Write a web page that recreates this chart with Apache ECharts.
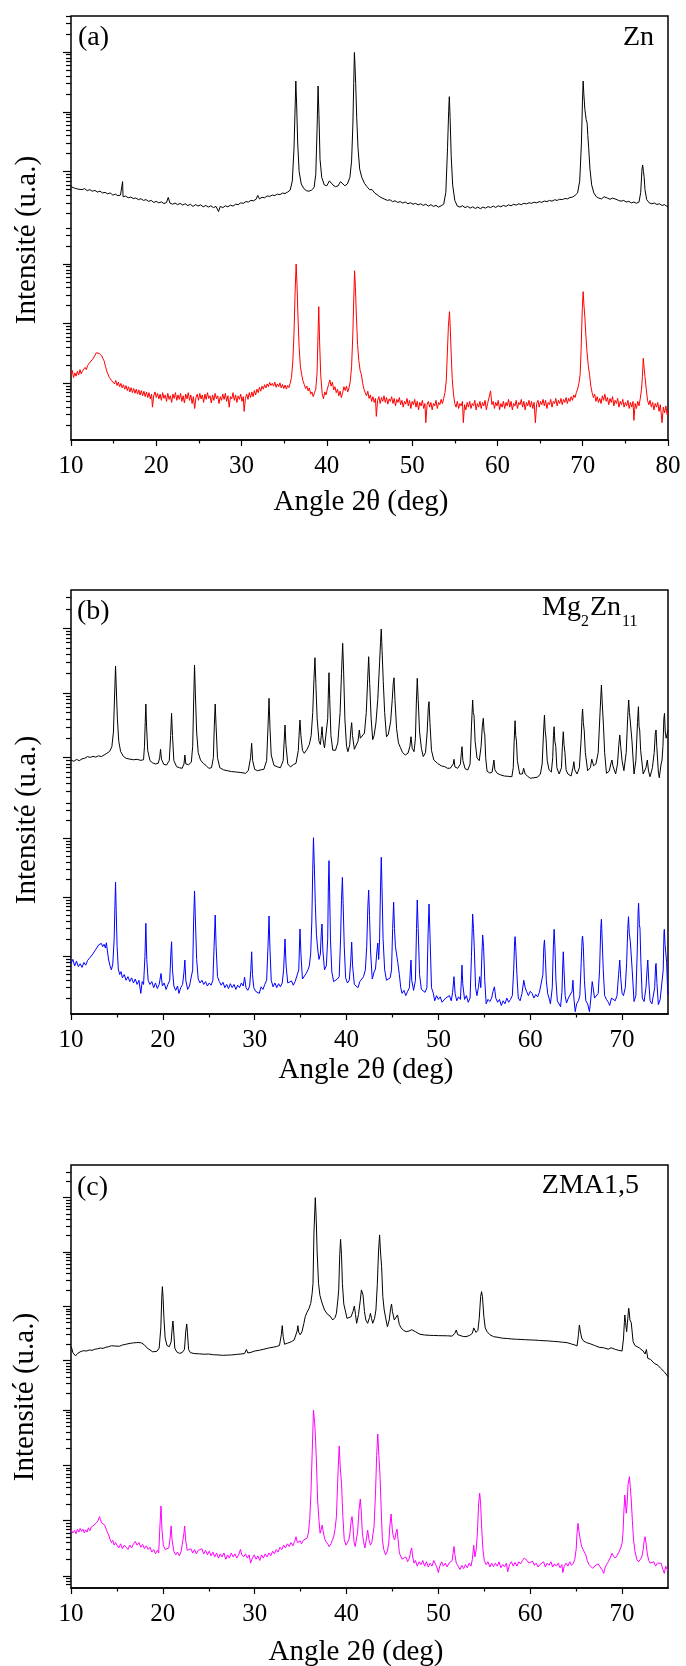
<!DOCTYPE html>
<html><head><meta charset="utf-8">
<script src="https://cdn.jsdelivr.net/npm/echarts@6/dist/echarts.min.js"></script>
<style>html,body{margin:0;padding:0;background:#fff}#c{width:686px;height:1666px}</style>
</head><body><div id="c"></div>
<script>
// ---------- text ----------
const panelLabels = ['(a)', '(b)', '(c)'];
const xTitle = 'Angle 2θ (deg)';
const yTitle = 'Intensité (u.a.)';
const xTicksA = [10, 20, 30, 40, 50, 60, 70, 80];
const xTicksBC = [10, 20, 30, 40, 50, 60, 70];

// ---------- data: [2θ (deg), intensity (a.u.)] ----------
const znBlack = [[10,560],[10.2,590],[10.4,530],[10.6,555],[10.8,510],[11,540],[11.3,500],[11.6,520],[11.9,480],[12.2,500],[12.5,470],[12.8,485],[13.1,455],[13.4,470],[13.7,440],[14,450],[14.3,425],[14.6,440],[14.9,405],[15.2,420],[15.5,395],[15.8,405],[16,385],[16.05,680],[16.1,380],[16.4,390],[16.7,365],[17,375],[17.3,355],[17.6,362],[17.9,340],[18.2,352],[18.5,330],[18.8,340],[19.1,318],[19.4,330],[19.7,305],[20,318],[20.3,300],[20.6,312],[20.9,292],[21.2,305],[21.4,370],[21.6,298],[21.9,285],[22.2,298],[22.5,280],[22.8,294],[23.1,276],[23.4,290],[23.7,270],[24,284],[24.3,262],[24.6,280],[24.9,266],[25.2,278],[25.5,258],[25.8,272],[26.1,255],[26.4,268],[26.7,250],[27,262],[27.3,215],[27.5,262],[27.8,250],[28.1,268],[28.4,258],[28.7,275],[29,265],[29.3,285],[29.6,280],[29.9,300],[30.2,295],[30.5,315],[30.8,310],[31.1,330],[31.4,325],[31.7,345],[31.9,400],[32.1,350],[32.4,372],[32.7,365],[33,392],[33.3,385],[33.6,405],[33.9,398],[34.2,420],[34.5,412],[34.8,438],[35.1,430],[35.4,455],[35.7,490],[35.95,700],[36.15,2500],[36.28,12000],[36.36,32700],[36.45,14000],[36.58,3000],[36.75,1000],[37,620],[37.3,520],[37.6,480],[37.9,470],[38.2,490],[38.5,540],[38.7,900],[38.85,5000],[38.97,27000],[39.07,9000],[39.2,1600],[39.4,800],[39.7,600],[40,580],[40.3,700],[40.5,690],[40.7,600],[41,560],[41.3,575],[41.6,680],[41.8,640],[42.1,580],[42.4,620],[42.7,800],[42.9,1500],[43.05,6000],[43.15,30000],[43.23,98000],[43.3,60000],[43.38,30000],[43.5,8000],[43.65,2500],[43.85,1100],[44.1,800],[44.4,640],[44.7,560],[45,500],[45.3,500],[45.6,440],[45.9,410],[46.2,380],[46.5,360],[46.8,345],[47.1,330],[47.4,338],[47.7,315],[48,325],[48.3,305],[48.6,315],[48.9,298],[49.2,310],[49.5,290],[49.8,302],[50.1,285],[50.4,295],[50.7,278],[51,290],[51.3,272],[51.6,285],[51.9,265],[52.2,280],[52.5,262],[52.8,272],[53.1,255],[53.4,268],[53.7,285],[53.95,450],[54.15,2500],[54.28,10000],[54.36,17900],[54.45,8000],[54.58,1800],[54.75,600],[55,330],[55.3,265],[55.6,255],[55.9,268],[56.2,250],[56.5,262],[56.8,245],[57.1,258],[57.4,242],[57.7,255],[58,240],[58.3,255],[58.6,245],[58.9,260],[59.2,250],[59.5,265],[59.8,252],[60.1,268],[60.4,258],[60.7,272],[61,262],[61.3,278],[61.6,268],[61.9,284],[62.2,275],[62.5,290],[62.8,280],[63.1,296],[63.4,288],[63.7,302],[64,294],[64.3,308],[64.6,300],[64.9,315],[65.2,306],[65.5,322],[65.8,314],[66.1,330],[66.4,320],[66.7,338],[67,330],[67.3,345],[67.6,340],[67.9,355],[68.2,350],[68.5,368],[68.8,375],[69.1,400],[69.4,440],[69.65,700],[69.85,3000],[69.97,15000],[70.05,32700],[70.13,20000],[70.25,11000],[70.4,7500],[70.52,6400],[70.6,4000],[70.7,2500],[70.85,1100],[71.05,600],[71.3,440],[71.6,380],[71.9,360],[72.2,350],[72.5,380],[72.7,410],[72.9,360],[73.2,345],[73.5,360],[73.7,385],[73.9,345],[74.2,330],[74.5,320],[74.8,330],[75.1,310],[75.4,318],[75.7,300],[76,310],[76.3,296],[76.6,310],[76.8,450],[76.95,1100],[77.03,1290],[77.12,1000],[77.2,820],[77.3,500],[77.5,340],[77.8,300],[78.1,290],[78.4,298],[78.7,282],[79,290],[79.3,272],[79.6,280],[79.8,262],[80,255]];

const znRed = [[10,140],[10.15,165],[10.3,125],[10.45,150],[10.6,132],[10.75,160],[10.9,138],[11.05,170],[11.2,145],[11.35,162],[11.5,150],[11.65,185],[11.8,170],[11.95,200],[12.1,190],[12.25,228],[12.4,215],[12.55,255],[12.7,275],[12.85,300],[12.95,325],[13.05,310],[13.15,340],[13.3,318],[13.45,300],[13.6,290],[13.75,260],[13.9,235],[14.05,190],[14.2,160],[14.35,150],[14.5,125],[14.65,132],[14.8,110],[14.95,118],[15.1,98],[15.25,112],[15.4,92],[15.55,105],[15.7,88],[15.85,100],[16,84],[16.15,95],[16.3,80],[16.45,92],[16.6,76],[16.75,88],[16.9,72],[17.05,85],[17.2,70],[17.35,82],[17.5,68],[17.65,80],[17.8,66],[17.95,78],[18.1,64],[18.25,76],[18.4,62],[18.55,74],[18.7,60],[18.85,72],[19,58],[19.15,70],[19.3,55],[19.45,66],[19.55,40],[19.7,62],[19.85,72],[20,58],[20.15,68],[20.3,55],[20.45,66],[20.6,52],[20.75,70],[20.9,56],[21.05,64],[21.2,50],[21.35,68],[21.5,54],[21.65,62],[21.8,48],[21.95,66],[22.1,56],[22.25,70],[22.4,52],[22.55,64],[22.7,54],[22.85,68],[23,50],[23.15,62],[23.3,47],[23.45,66],[23.6,55],[23.75,70],[23.9,52],[24.05,64],[24.2,46],[24.35,60],[24.5,38],[24.65,58],[24.8,66],[24.95,52],[25.1,68],[25.25,55],[25.4,64],[25.55,48],[25.7,66],[25.85,54],[26,70],[26.15,56],[26.3,62],[26.45,47],[26.6,64],[26.75,52],[26.9,68],[27.05,55],[27.2,62],[27.35,46],[27.5,60],[27.65,52],[27.8,66],[27.95,54],[28.1,68],[28.25,50],[28.4,62],[28.55,40],[28.7,60],[28.85,55],[29,70],[29.15,52],[29.3,64],[29.45,48],[29.6,62],[29.75,54],[29.9,66],[30.05,50],[30.2,60],[30.3,34],[30.45,56],[30.6,66],[30.75,54],[30.9,70],[31.05,58],[31.2,72],[31.35,60],[31.5,76],[31.65,64],[31.8,80],[31.95,70],[32.1,86],[32.25,74],[32.4,90],[32.55,80],[32.7,95],[32.85,84],[33,98],[33.15,88],[33.3,104],[33.45,92],[33.6,100],[33.75,90],[33.9,105],[34.05,86],[34.2,98],[34.35,88],[34.5,102],[34.65,84],[34.8,96],[34.95,82],[35.1,94],[35.25,80],[35.4,92],[35.55,85],[35.7,100],[35.85,125],[36,220],[36.15,700],[36.28,3500],[36.4,10000],[36.5,4500],[36.6,1500],[36.75,400],[36.9,190],[37.05,140],[37.2,110],[37.35,96],[37.5,82],[37.65,90],[37.8,75],[37.95,84],[38.1,66],[38.25,72],[38.4,60],[38.55,70],[38.7,80],[38.85,150],[38.97,700],[39.05,1930],[39.15,500],[39.28,140],[39.45,68],[39.6,55],[39.75,72],[39.9,64],[40.05,80],[40.2,96],[40.35,114],[40.5,90],[40.65,105],[40.8,78],[40.95,88],[41.1,70],[41.25,80],[41.4,62],[41.55,74],[41.7,58],[41.85,70],[42,88],[42.15,76],[42.3,90],[42.45,72],[42.6,84],[42.75,110],[42.9,190],[43.05,700],[43.15,2500],[43.25,7700],[43.35,4000],[43.45,1500],[43.6,450],[43.75,240],[43.9,165],[44.05,140],[44.2,100],[44.35,80],[44.5,70],[44.65,62],[44.8,74],[44.95,56],[45.1,64],[45.25,50],[45.4,60],[45.55,48],[45.7,56],[45.8,28],[45.95,52],[46.1,60],[46.25,46],[46.4,58],[46.55,50],[46.7,62],[46.85,48],[47,58],[47.15,45],[47.3,55],[47.45,50],[47.6,60],[47.75,46],[47.9,56],[48.05,42],[48.2,54],[48.35,48],[48.5,58],[48.65,44],[48.8,52],[48.95,40],[49.1,50],[49.25,45],[49.4,56],[49.55,42],[49.7,52],[49.85,38],[50,50],[50.15,44],[50.3,54],[50.45,40],[50.6,50],[50.75,36],[50.9,48],[51.05,42],[51.2,52],[51.35,38],[51.5,46],[51.6,22],[51.75,44],[51.9,50],[52.05,40],[52.2,48],[52.35,36],[52.5,46],[52.65,42],[52.8,52],[52.95,38],[53.1,48],[53.25,44],[53.4,54],[53.55,46],[53.7,56],[53.85,70],[54,110],[54.12,300],[54.25,900],[54.38,1590],[54.48,800],[54.58,300],[54.7,120],[54.85,66],[55,46],[55.15,40],[55.3,50],[55.45,38],[55.6,46],[55.75,42],[55.9,50],[56,22],[56.15,44],[56.3,36],[56.45,48],[56.6,40],[56.75,50],[56.9,38],[57.05,46],[57.2,42],[57.35,52],[57.5,36],[57.65,46],[57.8,40],[57.95,50],[58.1,38],[58.25,48],[58.4,42],[58.55,52],[58.7,36],[58.85,46],[59,44],[59.2,75],[59.35,44],[59.5,50],[59.65,38],[59.8,48],[59.95,42],[60.1,52],[60.25,36],[60.4,46],[60.55,40],[60.7,50],[60.85,38],[61,48],[61.15,42],[61.3,54],[61.45,40],[61.6,50],[61.75,36],[61.9,46],[62.05,42],[62.2,52],[62.35,38],[62.5,48],[62.65,44],[62.8,54],[62.95,40],[63.1,50],[63.25,36],[63.4,48],[63.55,42],[63.7,52],[63.85,40],[64,50],[64.15,38],[64.3,48],[64.45,22],[64.6,46],[64.75,52],[64.9,40],[65.05,50],[65.2,44],[65.35,54],[65.5,42],[65.65,52],[65.8,38],[65.95,48],[66.1,44],[66.25,54],[66.4,40],[66.55,50],[66.7,46],[66.85,56],[67,42],[67.15,52],[67.3,46],[67.45,56],[67.6,44],[67.75,54],[67.9,48],[68.05,58],[68.2,46],[68.35,56],[68.5,50],[68.65,60],[68.8,52],[68.95,64],[69.1,58],[69.25,70],[69.4,80],[69.55,100],[69.7,140],[69.82,400],[69.95,1800],[70.05,3440],[70.15,2000],[70.25,1300],[70.35,700],[70.5,340],[70.65,200],[70.8,140],[70.95,90],[71.1,70],[71.25,58],[71.4,66],[71.55,50],[71.7,60],[71.85,48],[72,56],[72.15,46],[72.3,62],[72.45,52],[72.6,66],[72.75,50],[72.9,58],[73.05,44],[73.2,56],[73.35,48],[73.5,60],[73.65,42],[73.8,52],[73.95,46],[74.1,56],[74.25,40],[74.4,50],[74.55,44],[74.7,54],[74.85,40],[75,48],[75.15,42],[75.3,52],[75.45,38],[75.6,48],[75.75,40],[75.9,50],[76,24],[76.15,46],[76.3,38],[76.45,50],[76.6,42],[76.75,56],[76.9,80],[77,130],[77.1,263],[77.2,180],[77.3,130],[77.45,80],[77.6,52],[77.75,44],[77.9,52],[78.05,40],[78.2,48],[78.35,36],[78.5,46],[78.65,40],[78.8,48],[78.95,34],[79.1,44],[79.3,22],[79.45,40],[79.6,32],[79.75,42],[79.9,30],[80,34]];

const mgBlack = [[10,921],[10.3,880],[10.6,940],[10.9,900],[11.2,960],[11.5,980],[11.8,1040],[12.1,1010],[12.4,1050],[12.7,1020],[13,1070],[13.3,1040],[13.6,1100],[13.9,1170],[14.2,1250],[14.45,1480],[14.62,2500],[14.72,7000],[14.85,26100],[14.95,10000],[15.05,4000],[15.2,1800],[15.4,1250],[15.7,1050],[16,980],[16.4,950],[16.8,930],[17.2,945],[17.6,910],[17.9,930],[18,1500],[18.08,3500],[18.15,6760],[18.23,3000],[18.35,1300],[18.6,900],[18.9,830],[19.2,800],[19.5,820],[19.65,1000],[19.75,1350],[19.85,950],[20.1,790],[20.4,771],[20.7,900],[20.85,2200],[20.95,4850],[21.05,2200],[21.2,900],[21.5,726],[21.8,700],[22.1,686],[22.3,800],[22.4,1100],[22.5,800],[22.8,780],[23.1,850],[23.25,1500],[23.35,7000],[23.45,27100],[23.55,9000],[23.68,2500],[23.85,1200],[24.1,921],[24.4,820],[24.7,760],[25,686],[25.3,700],[25.5,1000],[25.6,3000],[25.7,6760],[25.8,3000],[25.95,1000],[26.2,700],[26.6,650],[27,630],[27.5,610],[28,601],[28.5,590],[29,574],[29.3,630],[29.55,1000],[29.67,1670],[29.78,900],[30,660],[30.3,630],[30.7,650],[31,662],[31.3,900],[31.45,3000],[31.56,8280],[31.66,3000],[31.8,1100],[32.1,760],[32.5,720],[32.8,700],[33.1,900],[33.2,1700],[33.3,3200],[33.4,1600],[33.6,800],[33.9,720],[34.2,780],[34.5,819],[34.75,1300],[34.85,2500],[34.93,3830],[35.03,2200],[35.2,1300],[35.4,1170],[35.7,1350],[35.95,1600],[36.15,2200],[36.32,5000],[36.45,16000],[36.56,35100],[36.66,14000],[36.8,4000],[37,1800],[37.15,1600],[37.25,2200],[37.33,3010],[37.42,2000],[37.6,1420],[37.8,1500],[37.95,4000],[38.02,10000],[38.09,20600],[38.17,8000],[38.3,2200],[38.5,1310],[38.8,1300],[39.05,1700],[39.3,5000],[39.45,20000],[39.58,58600],[39.68,22000],[39.82,4000],[40,1500],[40.15,1240],[40.35,1600],[40.48,2800],[40.56,3480],[40.65,2200],[40.85,1350],[41.05,1310],[41.25,1800],[41.39,2680],[41.5,2000],[41.7,2000],[41.95,2400],[42.15,5000],[42.3,16000],[42.41,36400],[42.52,14000],[42.68,4000],[42.85,1900],[43,2200],[43.2,3440],[43.4,8000],[43.6,30000],[43.7,60000],[43.78,97600],[43.87,45000],[44,15000],[44.15,5000],[44.35,2100],[44.55,2300],[44.8,3600],[44.98,8000],[45.08,14000],[45.17,17200],[45.27,8000],[45.45,2800],[45.65,1700],[45.85,1450],[46.1,1200],[46.4,1100],[46.7,1180],[46.9,1500],[47.02,2110],[47.15,1400],[47.35,1240],[47.5,2000],[47.6,7000],[47.7,16900],[47.8,8000],[47.95,2500],[48.15,1400],[48.35,1040],[48.6,1200],[48.78,2500],[48.9,6000],[48.98,7340],[49.08,3500],[49.25,1300],[49.5,921],[49.9,820],[50.3,750],[50.7,726],[51,686],[51.3,690],[51.5,660],[51.62,800],[51.7,944],[51.8,720],[52.1,686],[52.4,800],[52.5,1200],[52.57,1480],[52.67,900],[52.9,680],[53.2,646],[53.45,800],[53.6,3000],[53.73,7800],[53.8,5000],[53.88,4500],[54,1800],[54.2,1000],[54.45,900],[54.65,1500],[54.78,3000],[54.89,4060],[54.98,2500],[55.05,2300],[55.15,1000],[55.3,620],[55.6,580],[55.85,600],[55.98,800],[56.05,921],[56.15,650],[56.4,574],[56.8,540],[57.2,521],[57.6,515],[58,508],[58.15,700],[58.25,1800],[58.35,3730],[58.42,2200],[58.5,1800],[58.6,900],[58.85,560],[59.15,560],[59.28,686],[59.35,686],[59.45,560],[59.7,520],[60,481],[60.4,490],[60.8,500],[61.1,560],[61.3,800],[61.45,2500],[61.55,4570],[61.63,2600],[61.72,2000],[61.85,900],[62.05,650],[62.3,600],[62.45,1000],[62.53,2200],[62.6,3010],[62.68,1800],[62.78,1500],[62.9,700],[63.15,560],[63.4,700],[63.5,1500],[63.6,2520],[63.68,1600],[63.78,1200],[63.9,650],[64.1,560],[64.45,521],[64.65,700],[64.75,867],[64.85,650],[65.1,560],[65.35,700],[65.55,2000],[65.65,4500],[65.7,5660],[65.78,3500],[65.88,2600],[66,1200],[66.25,630],[66.55,700],[66.7,950],[66.8,1000],[66.9,750],[67.15,800],[67.4,1200],[67.6,5000],[67.75,13300],[67.83,7500],[67.88,7000],[67.98,3000],[68.1,1200],[68.3,574],[68.6,620],[68.82,850],[68.9,921],[69,750],[69.3,560],[69.5,800],[69.65,1600],[69.75,2240],[69.85,1500],[70,900],[70.2,630],[70.45,1200],[70.62,4500],[70.72,7800],[70.8,5000],[70.88,3830],[70.98,3830],[71.08,1800],[71.3,560],[71.5,900],[71.68,3500],[71.78,6140],[71.85,3000],[71.92,2680],[72.02,1300],[72.3,560],[72.6,700],[72.75,921],[72.88,620],[73.05,508],[73.3,700],[73.5,1200],[73.62,2400],[73.7,2680],[73.78,1500],[73.95,600],[74.05,490],[74.25,800],[74.35,921],[74.45,1500],[74.55,4000],[74.62,4850],[74.7,2500],[74.8,2000],[74.9,2300],[75,2680]];

const mgBlue = [[10,77],[10.2,90],[10.4,70],[10.6,84],[10.8,68],[11,76],[11.2,66],[11.4,80],[11.6,72],[11.8,86],[12,94],[12.2,100],[12.4,112],[12.6,126],[12.8,140],[13,158],[13.15,150],[13.3,168],[13.45,148],[13.6,162],[13.75,140],[13.85,172],[13.95,130],[14.1,88],[14.25,70],[14.4,60],[14.55,75],[14.7,200],[14.78,700],[14.85,1810],[14.92,600],[15.02,150],[15.15,62],[15.3,50],[15.45,56],[15.6,44],[15.8,50],[16,40],[16.2,46],[16.4,38],[16.6,44],[16.8,36],[17,42],[17.2,34],[17.4,40],[17.6,24],[17.75,38],[17.9,34],[18.05,100],[18.15,367],[18.25,90],[18.4,40],[18.6,34],[18.8,38],[19,30],[19.2,36],[19.4,29],[19.6,34],[19.8,52],[19.95,32],[20.15,36],[20.35,28],[20.55,34],[20.75,40],[20.88,120],[20.95,179],[21.05,60],[21.2,32],[21.4,27],[21.6,32],[21.75,24],[21.95,30],[22.15,34],[22.3,55],[22.4,88],[22.5,40],[22.7,28],[22.9,32],[23.1,30],[23.25,60],[23.35,400],[23.45,1290],[23.55,400],[23.68,90],[23.85,42],[24.05,36],[24.25,40],[24.45,34],[24.65,38],[24.85,32],[25.05,36],[25.25,33],[25.45,40],[25.58,150],[25.7,506],[25.8,150],[25.95,46],[26.15,38],[26.35,33],[26.55,37],[26.75,30],[26.95,34],[27.15,29],[27.35,35],[27.55,30],[27.75,34],[27.95,28],[28.15,33],[28.35,30],[28.55,36],[28.75,32],[28.9,45],[29.05,30],[29.25,27],[29.45,32],[29.58,60],[29.67,121],[29.76,50],[29.9,30],[30.1,26],[30.3,28],[30.5,24],[30.7,31],[30.9,28],[31.1,34],[31.3,40],[31.45,150],[31.56,487],[31.66,140],[31.8,40],[32,31],[32.2,36],[32.4,30],[32.6,35],[32.8,31],[33,36],[33.15,60],[33.3,199],[33.42,70],[33.6,36],[33.8,34],[34,39],[34.2,33],[34.4,38],[34.6,36],[34.8,60],[34.93,294],[35.05,100],[35.2,42],[35.4,40],[35.6,52],[35.8,60],[35.95,70],[36.1,114],[36.22,400],[36.32,3000],[36.4,10230],[36.48,4000],[36.6,800],[36.72,240],[36.85,140],[37,90],[37.15,110],[37.25,250],[37.33,357],[37.42,130],[37.6,60],[37.8,70],[37.95,200],[38.02,1500],[38.09,4190],[38.16,1200],[38.25,200],[38.4,55],[38.6,38],[38.8,36],[39,42],[39.2,46],[39.35,200],[39.45,900],[39.55,2190],[39.63,800],[39.75,150],[39.9,44],[40.1,36],[40.3,40],[40.45,80],[40.56,177],[40.66,70],[40.85,34],[41.05,36],[41.25,30],[41.45,38],[41.65,40],[41.85,46],[42.05,60],[42.2,150],[42.32,700],[42.41,1340],[42.5,500],[42.62,120],[42.8,42],[43,55],[43.15,62],[43.3,120],[43.4,170],[43.5,90],[43.6,200],[43.7,1500],[43.78,4780],[43.86,1500],[43.98,200],[44.15,60],[44.35,40],[44.55,38],[44.75,44],[44.9,60],[45.02,300],[45.13,830],[45.22,300],[45.32,150],[45.46,139],[45.58,80],[45.75,50],[45.9,30],[46.05,24],[46.25,27],[46.45,22],[46.65,26],[46.85,30],[46.95,60],[47.02,88],[47.1,40],[47.3,27],[47.5,40],[47.62,300],[47.7,908],[47.8,300],[47.95,50],[48.15,28],[48.35,30],[48.55,25],[48.75,30],[48.88,250],[48.98,777],[49.08,250],[49.25,30],[49.45,24],[49.6,18],[49.8,22],[50,19],[50.2,21],[50.4,17],[50.6,16],[50.8,20],[51,19],[51.2,22],[51.4,18],[51.55,25],[51.7,46],[51.82,24],[52,18],[52.2,21],[52.4,19],[52.5,40],[52.57,72],[52.65,35],[52.85,19],[53.05,22],[53.25,17],[53.45,20],[53.6,100],[53.73,526],[53.82,300],[53.9,150],[54.05,30],[54.2,22],[54.35,30],[54.5,46],[54.62,30],[54.75,120],[54.82,233],[54.92,150],[55.05,40],[55.2,16],[55.4,19],[55.6,17.5],[55.8,20],[55.95,26],[56.1,31],[56.25,20],[56.45,17],[56.65,19],[56.85,15],[57.05,18],[57.25,16],[57.45,20],[57.65,17],[57.85,19],[58.05,22],[58.2,60],[58.3,180],[58.35,218],[58.42,150],[58.55,50],[58.7,20],[58.9,18],[59.1,24],[59.3,40],[59.45,30],[59.6,26],[59.8,22],[60,26],[60.2,24],[60.4,20],[60.6,23],[60.8,21],[61,25],[61.2,24],[61.38,50],[61.48,150],[61.55,192],[61.62,120],[61.75,40],[61.9,24],[62.05,20],[62.2,16],[62.4,30],[62.52,150],[62.6,290],[62.68,160],[62.8,40],[62.95,18],[63.15,17.5],[63.3,14.3],[63.45,25],[63.55,80],[63.6,121],[63.68,60],[63.8,22],[63.95,16.5],[64.15,20],[64.35,19],[64.55,26],[64.65,40],[64.75,20],[64.9,11.8],[65.05,16],[65.25,18],[65.4,22],[65.55,80],[65.65,200],[65.7,224],[65.78,150],[65.9,40],[66.05,18],[66.25,16],[66.45,11.8],[66.6,20],[66.75,38],[66.85,30],[67,20],[67.2,19],[67.4,24],[67.55,60],[67.68,300],[67.75,429],[67.83,200],[67.95,60],[68.1,22],[68.3,19],[68.5,17],[68.65,15],[68.85,20],[69.05,21],[69.25,18],[69.45,22],[69.62,50],[69.75,88],[69.85,45],[70,24],[70.15,22],[70.35,30],[70.5,80],[70.62,300],[70.7,474],[70.78,250],[70.9,180],[71,192],[71.1,60],[71.3,17.5],[71.5,22],[71.65,120],[71.75,600],[71.8,798],[71.88,350],[71.95,300],[72.05,80],[72.2,20],[72.4,17.5],[72.6,30],[72.75,70],[72.8,88],[72.9,40],[73.05,18],[73.25,16],[73.4,15],[73.55,30],[73.65,70],[73.7,77],[73.8,35],[73.95,15.5],[74.15,19],[74.35,18],[74.48,60],[74.56,250],[74.6,290],[74.68,160],[74.75,150],[74.85,80],[74.95,30],[75,22.5]];

const zmaBlack = [[10,180],[10.1,165],[10.2,140],[10.35,132],[10.5,122],[10.7,135],[10.9,145],[11.1,148],[11.4,152],[11.7,150],[12,157],[12.3,154],[12.6,162],[12.9,165],[13.2,170],[13.5,168],[13.8,176],[14.1,180],[14.4,188],[14.6,194],[14.8,185],[15,178],[15.3,184],[15.6,194],[15.9,198],[16.2,204],[16.5,208],[16.8,212],[17.1,214],[17.4,216],[17.7,210],[18,194],[18.3,170],[18.6,157],[18.9,145],[19.1,140],[19.35,148],[19.6,170],[19.78,400],[19.88,1400],[19.95,2300],[20.02,1500],[20.12,600],[20.25,260],[20.45,190],[20.7,180],[20.9,220],[21.02,400],[21.1,536],[21.18,350],[21.3,170],[21.5,145],[21.8,136],[22.1,140],[22.35,160],[22.5,350],[22.6,472],[22.68,330],[22.8,160],[23,140],[23.3,136],[23.6,134],[24,133],[24.5,131],[25,132],[25.5,128],[26,127],[26.5,125],[27,126],[27.5,127],[28,130],[28.5,132],[28.9,135],[29.1,160],[29.25,138],[29.6,142],[30,150],[30.5,155],[31,162],[31.5,170],[32,176],[32.4,182],[32.7,190],[32.9,300],[33,440],[33.1,280],[33.25,200],[33.6,210],[34,223],[34.3,240],[34.5,258],[34.62,350],[34.7,440],[34.8,330],[34.95,300],[35.15,340],[35.35,480],[35.5,643],[35.7,780],[35.9,900],[36.1,1130],[36.25,1700],[36.35,2650],[36.45,22100],[36.6,100000],[36.7,40000],[36.8,10000],[36.95,2650],[37.1,1600],[37.3,1200],[37.6,855],[37.9,720],[38.2,660],[38.5,560],[38.75,620],[38.9,743],[39.05,1300],[39.15,2000],[39.25,8000],[39.35,17100],[39.45,9000],[39.55,2650],[39.7,1100],[39.85,855],[40.05,600],[40.25,560],[40.5,643],[40.7,800],[40.85,1010],[40.98,700],[41.1,486],[41.3,700],[41.5,1300],[41.62,2000],[41.7,2140],[41.8,1600],[41.95,800],[42.1,560],[42.3,486],[42.5,620],[42.6,743],[42.72,600],[42.85,486],[43.05,600],[43.2,855],[43.35,2500],[43.48,10000],[43.6,20600],[43.7,10000],[43.82,5360],[43.95,1500],[44.1,855],[44.3,560],[44.45,421],[44.65,560],[44.8,900],[44.9,1100],[45,800],[45.2,560],[45.4,560],[45.55,692],[45.62,692],[45.75,460],[45.95,400],[46.2,360],[46.5,341],[46.8,350],[47.1,370],[47.3,394],[47.5,340],[47.7,318],[48,305],[48.5,296],[49,292],[49.5,290],[50,288],[50.5,287],[51,286],[51.5,282],[51.8,320],[51.95,366],[52.1,300],[52.3,282],[52.7,278],[53,276],[53.4,290],[53.7,318],[53.85,400],[53.95,421],[54.1,330],[54.3,360],[54.45,600],[54.6,1500],[54.7,1860],[54.8,1500],[54.95,643],[55.1,400],[55.3,341],[55.6,300],[56,276],[56.5,268],[57,258],[57.5,255],[58,250],[58.5,247],[59,245],[59.5,242],[60,240],[60.5,238],[61,235],[61.5,232],[62,230],[62.5,226],[63,223],[63.5,218],[64,214],[64.5,202],[64.85,194],[65.1,186],[65.25,300],[65.35,453],[65.45,350],[65.6,260],[65.8,230],[66.1,215],[66.5,205],[67,190],[67.5,176],[68,172],[68.5,162],[68.8,172],[69,168],[69.3,160],[69.6,155],[70,150],[70.15,250],[70.25,500],[70.3,692],[70.38,500],[70.5,341],[70.62,600],[70.72,920],[70.78,800],[70.85,560],[70.92,560],[71,500],[71.2,223],[71.4,190],[71.6,176],[71.9,170],[72.3,150],[72.5,132],[72.65,160],[72.8,110],[73.1,105],[73.5,89],[73.9,82],[74.2,72],[74.6,62],[75,50.5]];

const zmaMagenta = [[10,68],[10.2,60],[10.4,66],[10.55,58],[10.7,70],[10.85,62],[11,72],[11.15,64],[11.3,70],[11.45,60],[11.6,68],[11.75,62],[11.9,74],[12.05,66],[12.2,76],[12.35,70],[12.5,83],[12.65,78],[12.8,92],[12.95,100],[13.1,118],[13.2,105],[13.35,90],[13.5,96],[13.65,84],[13.8,80],[13.95,62],[14.1,55],[14.25,46],[14.4,40],[14.55,44],[14.7,36],[14.85,40],[15,36],[15.2,32],[15.4,38],[15.6,31],[15.8,36],[16,33],[16.2,30],[16.4,36],[16.6,32],[16.8,38],[17,42],[17.2,36],[17.4,40],[17.6,33],[17.8,37],[18,31],[18.2,35],[18.4,30],[18.6,33],[18.8,27],[19,30],[19.2,25],[19.4,29],[19.55,26],[19.68,80],[19.8,184],[19.9,70],[20.05,36],[20.25,30],[20.45,28],[20.65,32],[20.8,50],[20.9,80],[21,45],[21.2,28],[21.4,24],[21.6,27],[21.8,23],[22,28],[22.2,30],[22.3,60],[22.38,80],[22.48,45],[22.65,29],[22.85,27],[23.05,31],[23.25,26],[23.45,30],[23.65,25],[23.85,29],[24.05,27],[24.25,31],[24.45,25],[24.65,29],[24.85,24],[25.05,28],[25.25,23],[25.45,27],[25.65,22],[25.85,26],[26.05,21],[26.25,25],[26.45,22],[26.65,26],[26.85,20],[27.05,24],[27.25,21],[27.45,26],[27.65,22],[27.85,25],[28.05,21],[28.25,24],[28.45,30],[28.6,24],[28.8,22],[29,25],[29.2,21],[29.4,24],[29.55,17],[29.75,21],[29.95,24],[30.15,20],[30.35,23],[30.55,19],[30.75,24],[30.95,21],[31.15,25],[31.35,22],[31.55,26],[31.75,23],[31.95,28],[32.15,25],[32.35,30],[32.55,27],[32.75,33],[32.95,30],[33.15,36],[33.35,32],[33.55,38],[33.75,34],[33.95,40],[34.15,35],[34.35,42],[34.5,51],[34.65,40],[34.8,37],[34.95,43],[35.1,38],[35.3,44],[35.5,42],[35.7,48],[35.85,60],[36,110],[36.12,300],[36.25,1500],[36.4,10000],[36.52,6000],[36.6,3790],[36.72,1200],[36.85,236],[37,100],[37.12,59],[37.25,70],[37.35,83],[37.45,65],[37.6,48],[37.75,42],[37.95,38],[38.1,34],[38.3,38],[38.45,44],[38.6,51],[38.75,70],[38.9,118],[39.05,600],[39.2,2230],[39.32,900],[39.45,472],[39.6,120],[39.75,45],[39.95,36],[40.1,34],[40.25,45],[40.38,60],[40.5,100],[40.6,118],[40.7,80],[40.82,40],[40.95,34],[41.1,50],[41.2,60],[41.35,150],[41.5,246],[41.6,150],[41.72,60],[41.85,42],[42,32],[42.15,45],[42.3,67],[42.45,45],[42.6,36],[42.75,40],[42.9,60],[43,80],[43.15,300],[43.28,1500],[43.4,3680],[43.52,1500],[43.65,622],[43.78,150],[43.9,45],[44.05,30],[44.25,24],[44.45,28],[44.6,40],[44.72,80],[44.85,132],[44.98,70],[45.1,50],[45.25,45],[45.38,60],[45.5,70],[45.62,45],[45.75,26],[45.9,24],[46.05,20],[46.25,19],[46.45,22],[46.65,18],[46.85,21],[46.98,28],[47.1,32],[47.2,22],[47.35,17],[47.5,19],[47.7,15],[47.9,18],[48.1,16],[48.3,19],[48.5,15],[48.7,18],[48.9,14.5],[49.1,17],[49.3,15],[49.5,19],[49.7,16],[49.85,14],[50,11.5],[50.15,15],[50.35,18],[50.55,15],[50.75,17],[50.95,14.5],[51.15,17],[51.35,16],[51.5,19],[51.6,26],[51.7,34],[51.8,24],[51.95,17],[52.15,15],[52.35,13],[52.55,15.5],[52.75,13.5],[52.95,16],[53.15,14],[53.35,17],[53.55,15],[53.7,20],[53.85,36],[53.98,22],[54.12,30],[54.25,60],[54.38,200],[54.5,312],[54.6,200],[54.72,70],[54.85,30],[55,19],[55.2,16],[55.4,18],[55.6,14.5],[55.8,17],[56,14.7],[56.2,17],[56.4,15],[56.6,18],[56.8,14],[57,16],[57.2,14.5],[57.4,17],[57.55,11.9],[57.75,16],[57.95,18],[58.15,15],[58.35,17.5],[58.55,15],[58.75,18],[58.95,16.5],[59.15,19],[59.35,21],[59.5,22.3],[59.65,19],[59.85,17],[60.05,16],[60.25,18.5],[60.45,15.5],[60.65,17],[60.85,14.5],[61.05,16],[61.25,15],[61.45,18],[61.65,14.5],[61.85,17],[62.05,15.5],[62.25,18],[62.45,14.5],[62.65,16.5],[62.85,15],[63.05,17],[63.25,14],[63.45,16],[63.55,11.5],[63.7,15],[63.9,17],[64.1,15],[64.3,18],[64.5,15.5],[64.7,17],[64.85,20],[65,30],[65.1,60],[65.2,89],[65.3,65],[65.45,45],[65.6,34],[65.75,30],[65.9,31.6],[66.05,24],[66.2,19],[66.4,16],[66.6,15],[66.8,13.7],[67,15],[67.2,14],[67.4,16.5],[67.6,14.5],[67.8,13],[68,11.1],[68.15,14],[68.3,16],[68.5,18],[68.7,21],[68.9,25.6],[69.05,23],[69.25,21],[69.45,23],[69.65,27],[69.85,32],[70,38.9],[70.1,60],[70.2,150],[70.3,290],[70.38,200],[70.45,136],[70.55,200],[70.65,450],[70.8,622],[70.9,400],[71,236],[71.12,100],[71.25,45],[71.4,28],[71.6,20],[71.8,18],[72,20],[72.15,22],[72.3,30],[72.42,45],[72.5,51],[72.6,40],[72.75,25],[72.9,19],[73.05,17],[73.25,16.9],[73.45,18],[73.65,15],[73.85,17],[74.05,15.7],[74.25,17],[74.45,13],[74.6,11.1],[74.75,15],[74.9,13],[75,12.8]];

// ---------- layout / styling ----------
const FONT = '"Liberation Serif","Times New Roman",Times,serif';
const L = 71, W = 597;
const panels = [
  {top: 16, split: 225, bottom: 440, xMax: 80, xTicks: xTicksA, up: [128, 4.0e5], lo: [11.27, 44980],
   data: [znBlack, znRed], color: ['#000000', '#ff0000']},
  {top: 590, split: 805, bottom: 1014, xMax: 75, xTicks: xTicksBC, up: [185.8, 3.91e5], lo: [10.77, 36520],
   data: [mgBlack, mgBlue], color: ['#000000', '#0000ff']},
  {top: 1165, split: 1380, bottom: 1588, xMax: 75, xTicks: xTicksBC, up: [43.9, 3.998e5], lo: [6.04, 34860],
   data: [zmaBlack, zmaMagenta], color: ['#000000', '#ff00ff']}
];

function logTicks(min, max) {
  const major = [], minor = [];
  for (let e = Math.floor(Math.log10(min)); e <= Math.ceil(Math.log10(max)); e++) {
    const d = Math.pow(10, e);
    if (d >= min && d <= max) major.push(d);
    for (let m = 2; m <= 9; m++) { const v = m * d; if (v >= min * 1.0001 && v <= max * 1.0001) minor.push(v); }
  }
  return {major, minor};
}

const grid = [], xAxis = [], yAxis = [], series = [];
const tickStyle = {color: '#000', width: 1.2};
panels.forEach((p, pi) => {
  const gf = grid.length;
  grid.push({left: L, width: W, top: p.top, height: p.bottom - p.top, show: true,
    borderColor: '#000', borderWidth: 1.5, backgroundColor: 'transparent', containLabel: false, outerBoundsMode: 'none'});
  xAxis.push({gridIndex: gf, type: 'value', min: 10, max: p.xMax, show: false});
  yAxis.push({gridIndex: gf, type: 'value', min: 0, max: 1, show: false});
  [[p.top, p.split, p.up], [p.split, p.bottom, p.lo]].forEach((lay, li) => {
    const g = grid.length;
    grid.push({left: L, width: W, top: lay[0], height: lay[1] - lay[0], show: false, containLabel: false, outerBoundsMode: 'none'});
    const xi = xAxis.length;
    if (li === 0) {
      xAxis.push({gridIndex: g, type: 'value', min: 10, max: p.xMax, show: false});
    } else {
      xAxis.push({gridIndex: g, type: 'value', position: 'bottom', min: 10, max: p.xMax, interval: 10,
        axisLine: {show: true, onZero: false, lineStyle: {color: '#000', width: 1.5}},
        axisTick: {show: true, inside: false, length: 6, customValues: p.xTicks, lineStyle: tickStyle},
        minorTick: {show: true, splitNumber: 2, length: 3.5, lineStyle: tickStyle},
        axisLabel: {show: true, margin: 14, customValues: p.xTicks, fontFamily: FONT, fontSize: 25, color: '#000'},
        splitLine: {show: false}, minorSplitLine: {show: false}});
    }
    const t = logTicks(lay[2][0], lay[2][1]);
    const yiMaj = yAxis.length;
    yAxis.push({gridIndex: g, type: 'log', logBase: 10, position: 'left', offset: 0, min: lay[2][0], max: lay[2][1],
      axisLine: {show: false}, axisLabel: {show: false}, splitLine: {show: false},
      axisTick: {show: true, inside: false, length: 8, customValues: t.major, lineStyle: tickStyle}});
    yAxis.push({gridIndex: g, type: 'log', logBase: 10, position: 'left', offset: 0, min: lay[2][0], max: lay[2][1],
      axisLine: {show: false}, axisLabel: {show: false}, splitLine: {show: false},
      axisTick: {show: true, inside: false, length: 5, customValues: t.minor, lineStyle: tickStyle}});
    series.push({type: 'line', xAxisIndex: xi, yAxisIndex: yiMaj, data: p.data[li],
      showSymbol: false, symbol: 'none', silent: true, animation: false,
      lineStyle: {color: p.color[li], width: 1}, itemStyle: {color: p.color[li]}});
  });
});

function txt(x, y, text, size, align, extra) {
  return Object.assign({type: 'text', x: x, y: y, silent: true,
    style: {text: text, fontFamily: FONT, fontSize: size, fill: '#000',
      textAlign: align, textVerticalAlign: 'middle', align: align, verticalAlign: 'middle'}}, extra || {});
}
const graphic = [
  txt(78, 38, panelLabels[0], 28, 'left'),
  txt(654, 38, 'Zn', 28, 'right'),
  txt(77, 612, panelLabels[1], 28, 'left'),
  txt(542, 608, 'Mg', 28, 'left'),
  txt(581, 622, '2', 16, 'left'),
  txt(590, 608, 'Zn', 28, 'left'),
  txt(622, 622, '11', 16, 'left'),
  txt(77, 1188, panelLabels[2], 28, 'left'),
  txt(639, 1186, 'ZMA1,5', 28, 'right'),
  txt(361, 502, xTitle, 29, 'center'),
  txt(366, 1070, xTitle, 29, 'center'),
  txt(356, 1652, xTitle, 29, 'center'),
  txt(27, 240, yTitle, 29, 'center', {rotation: Math.PI / 2}),
  txt(27, 820, yTitle, 29, 'center', {rotation: Math.PI / 2}),
  txt(25, 1397, yTitle, 29, 'center', {rotation: Math.PI / 2})
];

const chart = echarts.init(document.getElementById('c'), null, {renderer: 'canvas'});
chart.setOption({
  backgroundColor: '#ffffff',
  animation: false,
  grid: grid, xAxis: xAxis, yAxis: yAxis, series: series, graphic: graphic
});
</script>
</body></html>
